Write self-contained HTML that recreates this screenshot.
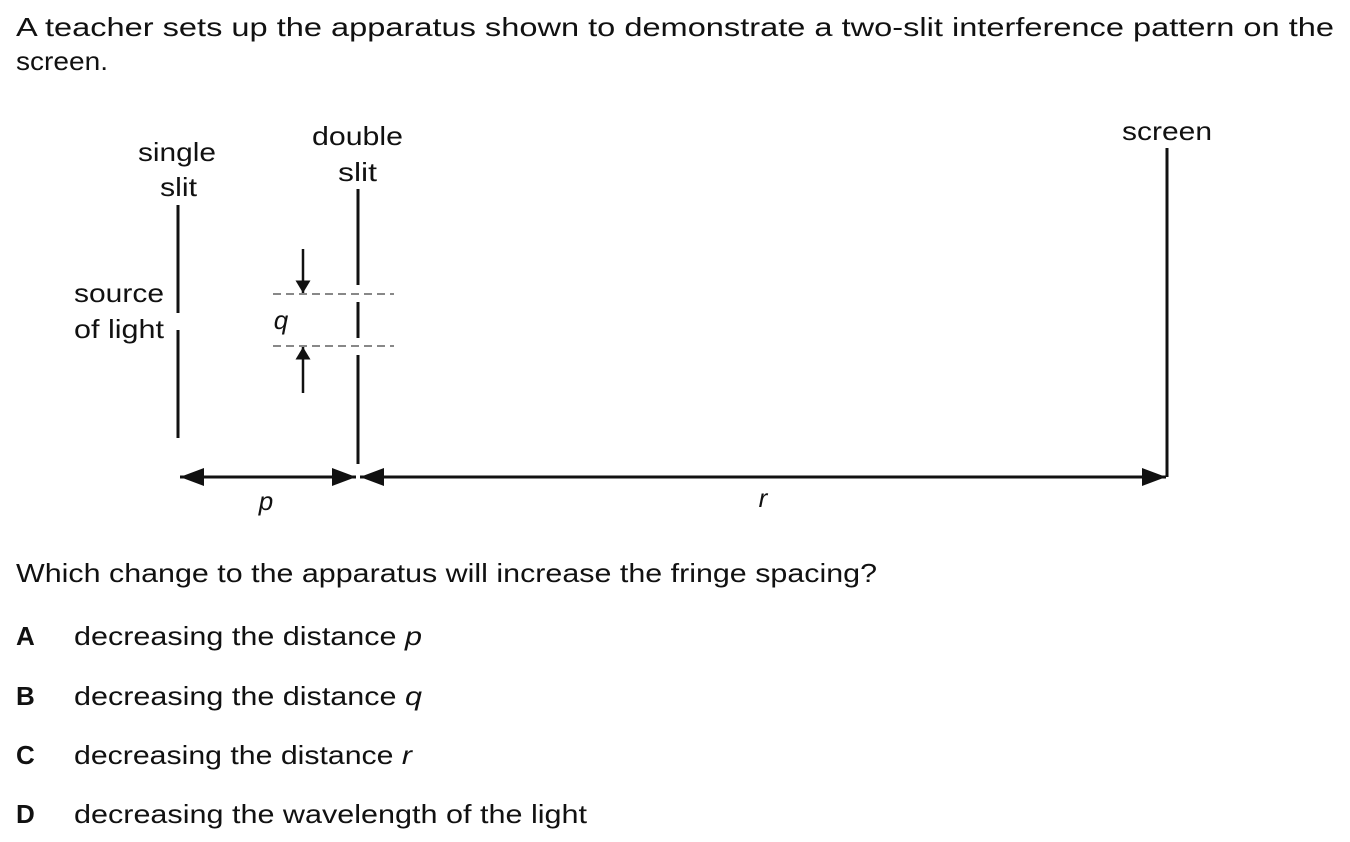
<!DOCTYPE html>
<html><head><meta charset="utf-8"><style>
html,body{margin:0;padding:0;background:#fff;}
svg{display:block;font-family:"Liberation Sans",Arial,sans-serif;}
text{font-size:26px;fill:#111;}
</style></head><body>
<svg width="1350" height="842" viewBox="0 0 1350 842">
<defs>
<marker id="ah" markerWidth="8" markerHeight="6" refX="8" refY="3" orient="auto-start-reverse" markerUnits="strokeWidth"><path d="M0,0 L8,3 L0,6 Z" fill="#111"/></marker>
<marker id="ah2" markerWidth="5" markerHeight="6" refX="5" refY="3" orient="auto" markerUnits="strokeWidth"><path d="M0,0 L5,3 L0,6 Z" fill="#111"/></marker>
</defs>
<text x="16" y="36" textLength="1318" lengthAdjust="spacingAndGlyphs">A teacher sets up the apparatus shown to demonstrate a two-slit interference pattern on the</text>
<text x="16" y="70" textLength="92" lengthAdjust="spacingAndGlyphs">screen.</text>

<g stroke="#111" stroke-width="3" fill="none">
<line x1="178" y1="205" x2="178" y2="313"/>
<line x1="178" y1="330" x2="178" y2="438"/>
<line x1="358" y1="189" x2="358" y2="285"/>
<line x1="358" y1="302" x2="358" y2="338"/>
<line x1="358" y1="355" x2="358" y2="464"/>
<line x1="1167" y1="148" x2="1167" y2="477"/>
<line x1="273" y1="294" x2="394" y2="294" stroke-width="1" stroke-dasharray="8,5"/>
<line x1="273" y1="346" x2="394" y2="346" stroke-width="1" stroke-dasharray="8,5"/>
<line x1="303" y1="249" x2="303" y2="293" stroke-width="2.5" marker-end="url(#ah2)"/>
<line x1="303" y1="393" x2="303" y2="347" stroke-width="2.5" marker-end="url(#ah2)"/>
<line x1="180" y1="477" x2="356" y2="477" stroke-width="3" marker-start="url(#ah)" marker-end="url(#ah)"/>
<line x1="360" y1="477" x2="1166" y2="477" stroke-width="3" marker-start="url(#ah)" marker-end="url(#ah)"/>
</g>

<text x="138" y="161" textLength="78" lengthAdjust="spacingAndGlyphs">single</text>
<text x="160" y="196" textLength="37" lengthAdjust="spacingAndGlyphs">slit</text>
<text x="312" y="145" textLength="91" lengthAdjust="spacingAndGlyphs">double</text>
<text x="338" y="181" textLength="39" lengthAdjust="spacingAndGlyphs">slit</text>
<text x="1122" y="140" textLength="90" lengthAdjust="spacingAndGlyphs">screen</text>
<text x="74" y="302" textLength="90" lengthAdjust="spacingAndGlyphs">source</text>
<text x="74" y="338" textLength="90" lengthAdjust="spacingAndGlyphs">of light</text>
<text x="281" y="329" text-anchor="middle" font-style="italic">q</text>
<text x="266" y="510" text-anchor="middle" font-style="italic">p</text>
<text x="763" y="507" text-anchor="middle" font-style="italic">r</text>

<text x="16" y="582" textLength="861" lengthAdjust="spacingAndGlyphs">Which change to the apparatus will increase the fringe spacing?</text>
<g><text x="16" y="645" font-weight="bold">A</text><text x="74" y="645" textLength="348" lengthAdjust="spacingAndGlyphs">decreasing the distance <tspan font-style="italic">p</tspan></text></g>
<g><text x="16" y="705" font-weight="bold">B</text><text x="74" y="705" textLength="348" lengthAdjust="spacingAndGlyphs">decreasing the distance <tspan font-style="italic">q</tspan></text></g>
<g><text x="16" y="764" font-weight="bold">C</text><text x="74" y="764" textLength="338" lengthAdjust="spacingAndGlyphs">decreasing the distance <tspan font-style="italic">r</tspan></text></g>
<g><text x="16" y="823" font-weight="bold">D</text><text x="74" y="823" textLength="513" lengthAdjust="spacingAndGlyphs">decreasing the wavelength of the light</text></g>
</svg>
</body></html>
